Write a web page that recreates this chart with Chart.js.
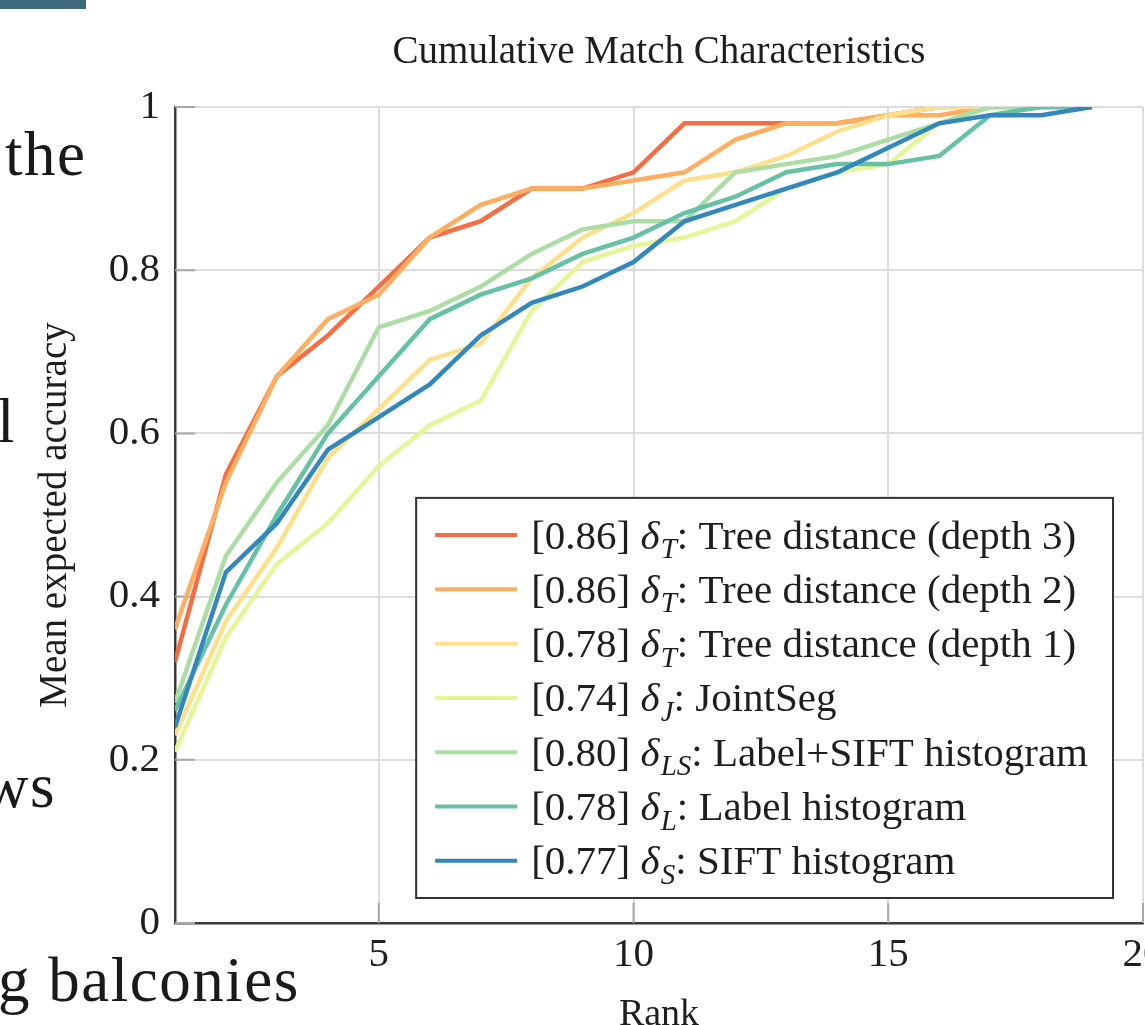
<!DOCTYPE html>
<html>
<head>
<meta charset="utf-8">
<title>Cumulative Match Characteristics</title>
<script src="https://cdn.jsdelivr.net/npm/chart.js@4.4.1/dist/chart.umd.min.js"></script>
<style>
  html, body { margin: 0; padding: 0; background: #fff; overflow: hidden; }
  #page { position: relative; width: 1145px; height: 1025px; overflow: hidden; }
  #backdrop { position: absolute; left: 0; top: 0; }
  #chart { position: absolute; left: 0; top: 0; }
</style>
</head>
<body>
<div id="page">
  <!-- bits of the surrounding paper text that show in the screenshot -->
  <svg id="backdrop" width="1145" height="1025">
    <rect x="0" y="0" width="86" height="9" fill="#3f6a7e"/>
    <g font-family="Liberation Serif" font-size="63" fill="#1a1a1a" letter-spacing="1.5">
      <text x="5" y="175">the</text>
      <text x="-3" y="442">l</text>
      <text x="-17" y="807">ws</text>
      <text x="-2" y="1001">g balconies</text>
    </g>
  </svg>
  <canvas id="chart" width="1200" height="1040"></canvas>
</div>
<script>
// --- data ---
const ranks = [1, 2, 3, 4, 5, 6, 7, 8, 9, 10, 11, 12, 13, 14, 15, 16, 17, 18, 19];

const treeDepth3 = [0.32, 0.55, 0.67, 0.72, 0.78, 0.84, 0.86, 0.90, 0.90, 0.92, 0.98, 0.98, 0.98, 0.98, 0.99, 1.00, 1.00, 1.00, 1.00];
const treeDepth2 = [0.36, 0.54, 0.67, 0.74, 0.77, 0.84, 0.88, 0.90, 0.90, 0.91, 0.92, 0.96, 0.98, 0.98, 0.99, 0.99, 1.00, 1.00, 1.00];
const treeDepth1 = [0.23, 0.37, 0.46, 0.57, 0.63, 0.69, 0.71, 0.79, 0.84, 0.87, 0.91, 0.92, 0.94, 0.97, 0.99, 1.00, 1.00, 1.00, 1.00];
const jointSeg   = [0.21, 0.35, 0.44, 0.49, 0.56, 0.61, 0.64, 0.75, 0.81, 0.83, 0.84, 0.86, 0.90, 0.92, 0.93, 0.98, 1.00, 1.00, 1.00];
const labelSift  = [0.27, 0.45, 0.54, 0.61, 0.73, 0.75, 0.78, 0.82, 0.85, 0.86, 0.86, 0.92, 0.93, 0.94, 0.96, 0.98, 1.00, 1.00, 1.00];
const labelHist  = [0.26, 0.39, 0.50, 0.60, 0.67, 0.74, 0.77, 0.79, 0.82, 0.84, 0.87, 0.89, 0.92, 0.93, 0.93, 0.94, 0.99, 1.00, 1.00];
const siftHist   = [0.24, 0.43, 0.49, 0.58, 0.62, 0.66, 0.72, 0.76, 0.78, 0.81, 0.86, 0.88, 0.90, 0.92, 0.95, 0.98, 0.99, 0.99, 1.00];

const seriesValues = [treeDepth3, treeDepth2, treeDepth1, jointSeg, labelSift, labelHist, siftHist];
const seriesScores = ['0.86', '0.86', '0.78', '0.74', '0.80', '0.78', '0.77'];
const seriesSubs   = ['T', 'T', 'T', 'J', 'LS', 'L', 'S'];
const seriesDescs  = ['Tree distance (depth 3)', 'Tree distance (depth 2)', 'Tree distance (depth 1)',
                      'JointSeg', 'Label+SIFT histogram', 'Label histogram', 'SIFT histogram'];
const seriesColors = ['#f46d43', '#fdae61', '#fee08b', '#e6f598', '#abdda4', '#66c2a5', '#3288bd'];

const xTicks = [5, 10, 15, 20];
const yTicks = [0, 0.2, 0.4, 0.6, 0.8, 1];
const yTickLabels = ['0', '0.2', '0.4', '0.6', '0.8', '1'];

const chartTitle = 'Cumulative Match Characteristics';
const SERIF = '"Liberation Serif", "Times New Roman", serif';
const INK = '#1e1e1e';

// title centred over the plot area (the built-in one centres on the canvas)
const plotTitle = {
    id: 'plotTitle',
    afterDraw(chart) {
        const { ctx, chartArea } = chart;
        ctx.save();
        ctx.font = `39px ${SERIF}`;
        ctx.fillStyle = INK;
        ctx.textAlign = 'center';
        ctx.textBaseline = 'alphabetic';
        ctx.fillText(chartTitle, (chartArea.left + chartArea.right) / 2, 63);
        ctx.restore();
    }
};

// pgfplots-style short ticks pointing into the plot
const innerTicks = {
    id: 'innerTicks',
    beforeDatasetsDraw(chart) {
        const { ctx, chartArea, scales } = chart;
        ctx.save();
        ctx.strokeStyle = '#a8a8a8';
        ctx.lineWidth = 2;
        ctx.beginPath();
        xTicks.forEach(v => {
            const px = scales.x.getPixelForValue(v);
            ctx.moveTo(px, chartArea.bottom);
            ctx.lineTo(px, chartArea.bottom - 20);
        });
        yTicks.forEach(v => {
            const py = scales.y.getPixelForValue(v);
            ctx.moveTo(chartArea.left, py);
            ctx.lineTo(chartArea.left + 20, py);
        });
        ctx.stroke();
        ctx.restore();
    }
};

// legend with the delta + subscript labels
function drawLegendText(ctx, i, x, y, fs, draw) {
    let cx = x;
    const piece = (txt, font, dy) => {
        ctx.font = font;
        if (draw) ctx.fillText(txt, cx, y + dy);
        cx += ctx.measureText(txt).width;
    };
    piece(`[${seriesScores[i]}] `, `${fs}px ${SERIF}`, 0);
    piece('δ', `italic ${fs}px ${SERIF}`, 0);
    cx += fs * 0.03;
    piece(seriesSubs[i], `italic ${Math.round(fs * 0.7)}px ${SERIF}`, fs * 0.23);
    piece(`: ${seriesDescs[i]}`, `${fs}px ${SERIF}`, 0);
    return cx - x;
}

const mathLegend = {
    id: 'mathLegend',
    afterDraw(chart) {
        const { ctx, chartArea } = chart;
        const fs = 41, rowH = 54.3, padL = 19, lineLen = 82, gap = 14, padR = 25, padV = 10;
        ctx.save();
        let maxW = 0;
        seriesValues.forEach((_, i) => { maxW = Math.max(maxW, drawLegendText(ctx, i, 0, 0, fs, false)); });
        const w = padL + lineLen + gap + maxW + padR;
        const h = padV * 2 + rowH * seriesValues.length;
        const right = chartArea.right - 30, bottom = chartArea.bottom - 25;
        const left = right - w, top = bottom - h;
        ctx.fillStyle = '#fff';
        ctx.fillRect(left, top, w, h);
        ctx.strokeStyle = '#333';
        ctx.lineWidth = 2;
        ctx.strokeRect(left, top, w, h);
        ctx.textBaseline = 'alphabetic';
        ctx.textAlign = 'left';
        seriesValues.forEach((_, i) => {
            const cy = top + padV + rowH * (i + 0.5);
            ctx.strokeStyle = seriesColors[i];
            ctx.lineWidth = 4;
            ctx.beginPath();
            ctx.moveTo(left + padL, cy);
            ctx.lineTo(left + padL + lineLen, cy);
            ctx.stroke();
            ctx.fillStyle = INK;
            drawLegendText(ctx, i, left + padL + lineLen + gap, cy + fs * 0.33, fs, true);
        });
        ctx.restore();
    }
};

const datasets = seriesValues.map((vals, i) => ({
    label: `[${seriesScores[i]}] δ${seriesSubs[i]}: ${seriesDescs[i]}`,
    data: ranks.map((r, k) => ({ x: r, y: vals[k] })),
    borderColor: seriesColors[i],
    backgroundColor: seriesColors[i],
    borderWidth: 4.5,
    pointRadius: 0,
    tension: 0,
    fill: false,
    order: seriesValues.length - 1 - i   // later series drawn on top, like pgfplots
}));

new Chart(document.getElementById('chart'), {
    type: 'line',
    data: { datasets },
    options: {
        responsive: false,
        animation: false,
        devicePixelRatio: 1,
        layout: { padding: { top: 107, right: 57, left: 0, bottom: 0 } },
        plugins: {
            legend: { display: false },
            title: { display: false },
            tooltip: { enabled: false }
        },
        scales: {
            x: {
                type: 'linear',
                min: 1,
                max: 20,
                afterBuildTicks: s => { s.ticks = xTicks.map(v => ({ value: v })); },
                afterFit: s => { s.height = 117; },
                ticks: { font: { family: SERIF, size: 41 }, color: INK, padding: 8, maxRotation: 0 },
                grid: { color: '#dcdcdc', lineWidth: 2, drawTicks: false },
                border: { color: '#3a3a3a', width: 2.5 },
                title: { display: true, text: 'Rank', font: { family: SERIF, size: 38 }, color: INK,
                         padding: { top: 0, bottom: 2 } }
            },
            y: {
                min: 0,
                max: 1,
                afterBuildTicks: s => { s.ticks = yTicks.map(v => ({ value: v })); },
                afterFit: s => { s.width = 175; },
                ticks: { font: { family: SERIF, size: 41 }, color: INK, padding: 15,
                         callback: (v, idx) => yTickLabels[idx] },
                grid: { color: '#dcdcdc', lineWidth: 2, drawTicks: false },
                border: { color: '#3a3a3a', width: 2.5 },
                title: { display: true, text: 'Mean expected accuracy', font: { family: SERIF, size: 39 }, color: INK,
                         padding: { top: 32, bottom: 0 } }
            }
        }
    },
    plugins: [innerTicks, plotTitle, mathLegend]
});
</script>
</body>
</html>
